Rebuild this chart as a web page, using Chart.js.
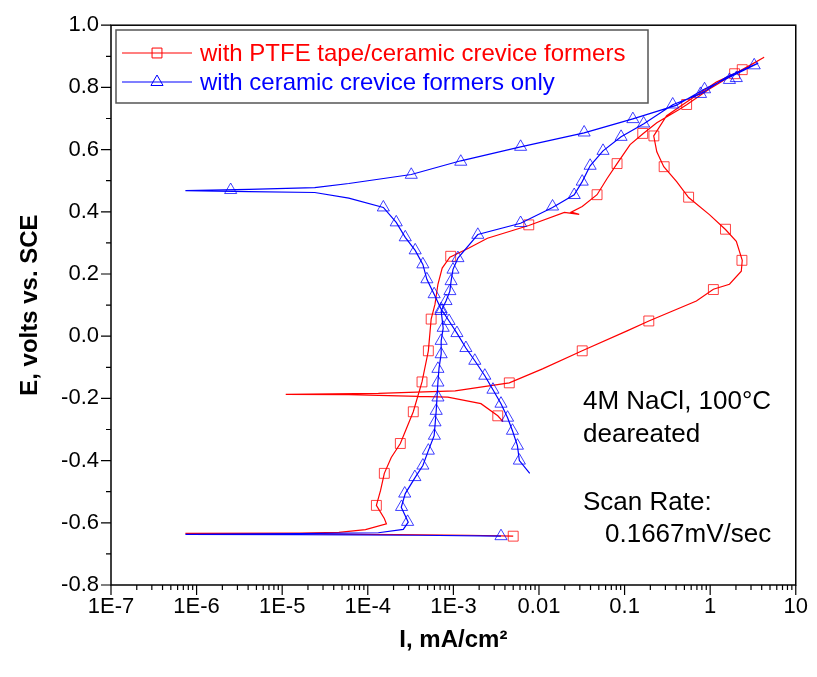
<!DOCTYPE html>
<html>
<head>
<meta charset="utf-8">
<title>Cyclic polarization — crevice formers</title>
<script src="https://cdn.jsdelivr.net/npm/chart.js@4.4.1/dist/chart.umd.min.js"></script>
<style>
  html, body { margin: 0; padding: 0; background: #fff; }
</style>
</head>
<body>
<canvas id="polChart" width="817" height="677"></canvas>
<script>
/* ================================================
   DATA  (I in mA/cm², E in volts vs. SCE)
================================================ */
const xTickValues = [1e-7, 1e-6, 1e-5, 1e-4, 1e-3, 0.01, 0.1, 1, 10];
const xTickLabels = ['1E-7', '1E-6', '1E-5', '1E-4', '1E-3', '0.01', '0.1', '1', '10'];
const yTickValues = [-0.8, -0.6, -0.4, -0.2, 0.0, 0.2, 0.4, 0.6, 0.8, 1.0];

const seriesLabels = ['with PTFE tape/ceramic crevice formers', 'with ceramic crevice formers only'];

// with PTFE tape/ceramic crevice formers — scan trace
const ptfeI = [5.0e-3, 1.5e-3, 2.3e-4, 1.6e-5, 7.4e-7, 1.6e-5, 4.6e-5, 9.4e-5, 1.65e-4, 1.56e-4,
  1.26e-4, 1.41e-4, 1.56e-4, 1.88e-4, 2.4e-4, 3.4e-4, 4.3e-4, 5.1e-4, 5.5e-4, 6.1e-4,
  6.6e-4, 7.4e-4, 9.1e-4, 1.5e-3, 2.5e-3, 7.6e-3, 0.0198, 0.0295, 0.0238, 0.032,
  0.0477, 0.0625, 0.0817, 0.116, 0.164, 0.238, 0.429, 0.531, 0.98, 1.91, 4.27,
  2.37, 1.18, 0.531, 0.31, 0.219, 0.238, 0.287, 0.406, 0.56, 0.98, 1.51, 2.02, 2.37,
  2.31, 1.68, 1.09, 0.69, 0.192, 0.107, 0.032, 0.011, 4.5e-3, 1.05e-3, 1.33e-4,
  1.1e-5, 6.0e-5, 8.6e-4, 2.1e-3, 3.3e-3, 3.8e-3];
const ptfeE = [-0.643, -0.640, -0.638, -0.636, -0.634, -0.633, -0.631, -0.622, -0.603, -0.586,
  -0.544, -0.496, -0.441, -0.390, -0.345, -0.243, -0.147, -0.047, 0.055, 0.103,
  0.167, 0.219, 0.254, 0.283, 0.315, 0.356, 0.398, 0.392, 0.399, 0.417,
  0.455, 0.507, 0.555, 0.616, 0.651, 0.686, 0.728, 0.744, 0.795, 0.843, 0.897,
  0.856, 0.817, 0.753, 0.709, 0.644, 0.593, 0.545, 0.497, 0.446, 0.391, 0.343, 0.305, 0.244,
  0.209, 0.167, 0.151, 0.113, 0.049, 0.017, -0.047, -0.105, -0.150, -0.176, -0.184,
  -0.187, -0.188, -0.196, -0.217, -0.256, -0.275];

// square markers along the PTFE trace
const ptfeMarkI = [5.0e-3, 1.26e-4, 1.56e-4, 2.4e-4, 3.4e-4, 4.3e-4, 5.1e-4, 5.5e-4, 9.3e-4, 7.6e-3,
  0.0477, 0.0817, 0.163, 0.22, 0.531, 1.93, 2.37, 0.29, 0.56, 1.51, 2.35, 1.09, 0.192, 0.032,
  4.5e-3, 3.3e-3];
const ptfeMarkE = [-0.643, -0.544, -0.441, -0.345, -0.243, -0.147, -0.047, 0.055, 0.257, 0.358,
  0.455, 0.555, 0.652, 0.644, 0.745, 0.844, 0.857, 0.545, 0.447, 0.344, 0.244, 0.150, 0.049, -0.047,
  -0.150, -0.256];

// with ceramic crevice formers only — scan trace
const ceramicI = [3.6e-3, 3.9e-4, 1.6e-5, 7.4e-7, 1.6e-5, 1.33e-4, 2.6e-4, 2.97e-4, 2.46e-4, 2.74e-4,
  3.58e-4, 4.4e-4, 5.1e-4, 5.96e-4, 6.3e-4, 6.6e-4, 6.8e-4, 7.2e-4, 7.2e-4, 7.6e-4,
  7.2e-4, 8.2e-4, 9.1e-4, 9.4e-4, 9.9e-4, 1.13e-3, 1.93e-3, 6.1e-3, 0.0144, 0.0258,
  0.032, 0.0396, 0.056, 0.091, 0.168, 0.365, 0.771, 1.55, 3.64,
  2.02, 0.86, 0.40, 0.125, 0.0337, 6.1e-3, 1.22e-3, 3.22e-4, 6.0e-5, 2.4e-5, 4.1e-6,
  7.4e-7, 4.1e-6, 2.4e-5, 6.0e-5, 1.52e-4, 2.15e-4, 2.74e-4, 3.58e-4, 4.4e-4, 4.9e-4,
  5.96e-4, 7.2e-4, 8.9e-4, 1.1e-3, 1.4e-3, 1.78e-3, 2.33e-3, 2.9e-3, 3.6e-3, 4.3e-3,
  4.9e-3, 5.6e-3, 5.9e-3, 7.8e-3];
const ceramicE = [-0.643, -0.640, -0.638, -0.637, -0.635, -0.632, -0.621, -0.598, -0.550, -0.506,
  -0.454, -0.416, -0.368, -0.320, -0.240, -0.147, -0.102, -0.057, -0.015, 0.026,
  0.081, 0.113, 0.145, 0.177, 0.215, 0.251, 0.327, 0.363, 0.414, 0.455,
  0.497, 0.548, 0.596, 0.641, 0.683, 0.744, 0.779, 0.833, 0.878,
  0.843, 0.795, 0.742, 0.699, 0.654, 0.609, 0.564, 0.520, 0.491, 0.478, 0.472,
  0.468, 0.465, 0.462, 0.444, 0.414, 0.366, 0.318, 0.276, 0.231, 0.183,
  0.135, 0.087, 0.049, 0.010, -0.038, -0.079, -0.127, -0.172, -0.217, -0.262,
  -0.304, -0.352, -0.400, -0.441];

// triangle markers along the ceramic trace
const ceramicMarkI = [3.6e-3, 2.92e-4, 2.48e-4, 2.7e-4, 3.55e-4, 4.4e-4, 5.1e-4, 6.0e-4, 6.1e-4, 6.3e-4,
  6.6e-4, 6.6e-4, 6.6e-4, 7.2e-4, 7.2e-4, 7.6e-4, 7.2e-4, 8.2e-4, 9.1e-4, 9.4e-4,
  9.9e-4, 1.13e-3, 1.93e-3, 6.1e-3, 0.0144, 0.0258, 0.032, 0.0396, 0.056, 0.091,
  0.167, 0.365, 0.771, 0.86, 1.68, 2.02, 3.27, 0.125, 0.0337, 6.1e-3, 1.22e-3, 3.22e-4,
  2.5e-6, 1.52e-4, 2.15e-4, 2.74e-4, 3.58e-4, 4.4e-4, 4.9e-4, 5.96e-4, 7.2e-4, 8.9e-4,
  1.1e-3, 1.4e-3, 1.78e-3, 2.33e-3, 2.9e-3, 3.6e-3, 4.3e-3, 4.9e-3, 5.6e-3, 5.9e-3];
const ceramicMarkE = [-0.643, -0.597, -0.549, -0.506, -0.453, -0.416, -0.368, -0.320, -0.277, -0.240,
  -0.197, -0.149, -0.105, -0.058, -0.015, 0.027, 0.081, 0.113, 0.145, 0.177,
  0.214, 0.251, 0.326, 0.364, 0.417, 0.454, 0.497, 0.548, 0.596, 0.641,
  0.684, 0.745, 0.779, 0.794, 0.824, 0.830, 0.871, 0.698, 0.655, 0.609, 0.561, 0.519,
  0.470, 0.414, 0.366, 0.318, 0.276, 0.231, 0.183, 0.135, 0.087, 0.049,
  0.010, -0.038, -0.079, -0.127, -0.172, -0.217, -0.262, -0.304, -0.352, -0.400];

const noteLines = ['4M NaCl, 100°C', 'deareated', 'Scan Rate:', '0.1667mV/sec'];

/* ================================================
   HELPERS / PLUGINS
================================================ */
const RED  = '#ff0000';
const BLUE = '#0000ff';
const FONT = "'Liberation Sans', Arial, Helvetica, sans-serif";

const toPoints = (xs, ys) => xs.map((v, i) => ({ x: v, y: ys[i] }));

// frame + outward major/minor ticks
const frameTicks = {
  id: 'frameTicks',
  afterDraw(chart) {
    const { ctx, chartArea: a, scales: { x, y } } = chart;
    ctx.save();
    ctx.strokeStyle = '#000';
    ctx.lineWidth = 1.5;
    ctx.strokeRect(a.left, a.top, a.right - a.left, a.bottom - a.top);

    ctx.lineWidth = 1.2;
    ctx.beginPath();
    xTickValues.forEach((v, i) => {
      const px = x.getPixelForValue(v);
      ctx.moveTo(px, a.bottom); ctx.lineTo(px, a.bottom + 10);
      if (i === xTickValues.length - 1) return;
      for (let m = 2; m <= 9; m++) {
        const mx = x.getPixelForValue(v * m);
        ctx.moveTo(mx, a.bottom); ctx.lineTo(mx, a.bottom + 5);
      }
    });
    yTickValues.forEach((v, i) => {
      const py = y.getPixelForValue(v);
      ctx.moveTo(a.left, py); ctx.lineTo(a.left - 10, py);
      if (i === yTickValues.length - 1) return;
      const my = y.getPixelForValue(v + 0.1);
      ctx.moveTo(a.left, my); ctx.lineTo(a.left - 5, my);
    });
    ctx.stroke();
    ctx.restore();
  }
};

// legend box inside the plot, line + hollow marker sample
const insideLegend = {
  id: 'insideLegend',
  afterDraw(chart) {
    const { ctx } = chart;
    const entries = [
      { ds: chart.data.datasets[2], style: 'rect' },
      { ds: chart.data.datasets[0], style: 'triangle' },
    ];
    ctx.save();
    ctx.fillStyle = '#fff';
    ctx.fillRect(116, 30, 532, 73);
    ctx.strokeStyle = '#555';
    ctx.lineWidth = 1.5;
    ctx.strokeRect(116, 30, 532, 73);

    entries.forEach((e, i) => {
      const cy = 53 + i * 29;
      ctx.strokeStyle = e.ds.borderColor;
      ctx.lineWidth = 1.2;
      ctx.beginPath();
      ctx.moveTo(122, cy); ctx.lineTo(192, cy);
      ctx.stroke();
      ctx.fillStyle = 'rgba(0,0,0,0)';
      ctx.lineWidth = 1;
      Chart.helpers.drawPoint(ctx, { pointStyle: e.style, radius: 7, borderWidth: 1 }, 157, cy);
      ctx.fillStyle = e.ds.borderColor;
      ctx.font = '24px ' + FONT;
      ctx.textBaseline = 'middle';
      ctx.fillText(e.ds.label, 200, cy + 1);
    });
    ctx.restore();
  }
};

// experimental conditions note
const conditionsNote = {
  id: 'conditionsNote',
  afterDraw(chart) {
    const { ctx } = chart;
    const pos = [[583, 409], [583, 442], [583, 510], [605, 542]];
    ctx.save();
    ctx.fillStyle = '#000';
    ctx.font = '26px ' + FONT;
    ctx.textBaseline = 'alphabetic';
    noteLines.forEach((t, i) => ctx.fillText(t, pos[i][0], pos[i][1]));
    ctx.restore();
  }
};

/* ================================================
   CHART
================================================ */
Chart.defaults.font.family = FONT;
Chart.defaults.color = '#000';

new Chart(document.getElementById('polChart'), {
  type: 'scatter',
  data: {
    datasets: [
      {
        label: seriesLabels[1],
        data: toPoints(ceramicI, ceramicE),
        showLine: true,
        borderColor: BLUE,
        borderWidth: 1.2,
        pointRadius: 0,
        tension: 0,
      },
      {
        label: seriesLabels[1] + ' markers',
        data: toPoints(ceramicMarkI, ceramicMarkE),
        showLine: false,
        pointStyle: 'triangle',
        pointRadius: 7,
        pointBorderWidth: 1,
        pointBorderColor: 'rgba(0,0,255,0.75)',
        pointBackgroundColor: 'rgba(0,0,0,0)',
      },
      {
        label: seriesLabels[0],
        data: toPoints(ptfeI, ptfeE),
        showLine: true,
        borderColor: RED,
        borderWidth: 1.2,
        pointRadius: 0,
        tension: 0,
      },
      {
        label: seriesLabels[0] + ' markers',
        data: toPoints(ptfeMarkI, ptfeMarkE),
        showLine: false,
        pointStyle: 'rect',
        pointRadius: 7,
        pointBorderWidth: 1,
        pointBorderColor: 'rgba(255,0,0,0.75)',
        pointBackgroundColor: 'rgba(0,0,0,0)',
      },
    ],
  },
  options: {
    responsive: false,
    animation: false,
    layout: { padding: { top: 23, right: 17, left: 0, bottom: 0 } },
    plugins: { legend: { display: false }, tooltip: { enabled: false } },
    scales: {
      x: {
        type: 'logarithmic',
        min: 1e-7,
        max: 10,
        grid: { display: false, drawTicks: false },
        border: { display: false },
        afterBuildTicks: s => { s.ticks = xTickValues.map(v => ({ value: v })); },
        afterFit: s => { s.height = 92; },
        ticks: {
          autoSkip: false,
          maxRotation: 0,
          padding: 9,
          font: { size: 22 },
          callback: (v, i) => xTickLabels[i],
        },
        title: {
          display: true,
          text: 'I, mA/cm²',
          font: { size: 24, weight: 'bold' },
          padding: { top: 0, bottom: 22 },
        },
      },
      y: {
        min: -0.8,
        max: 1.0,
        grid: { display: false, drawTicks: false },
        border: { display: false },
        afterBuildTicks: s => { s.ticks = yTickValues.map(v => ({ value: v })); },
        afterFit: s => { s.width = 111; },
        ticks: {
          padding: 12,
          font: { size: 22 },
          callback: v => v.toFixed(1),
        },
        title: {
          display: true,
          text: 'E, volts vs. SCE',
          font: { size: 24, weight: 'bold' },
          padding: { top: 16, bottom: 0 },
        },
      },
    },
  },
  plugins: [frameTicks, insideLegend, conditionsNote],
});
</script>
</body>
</html>
